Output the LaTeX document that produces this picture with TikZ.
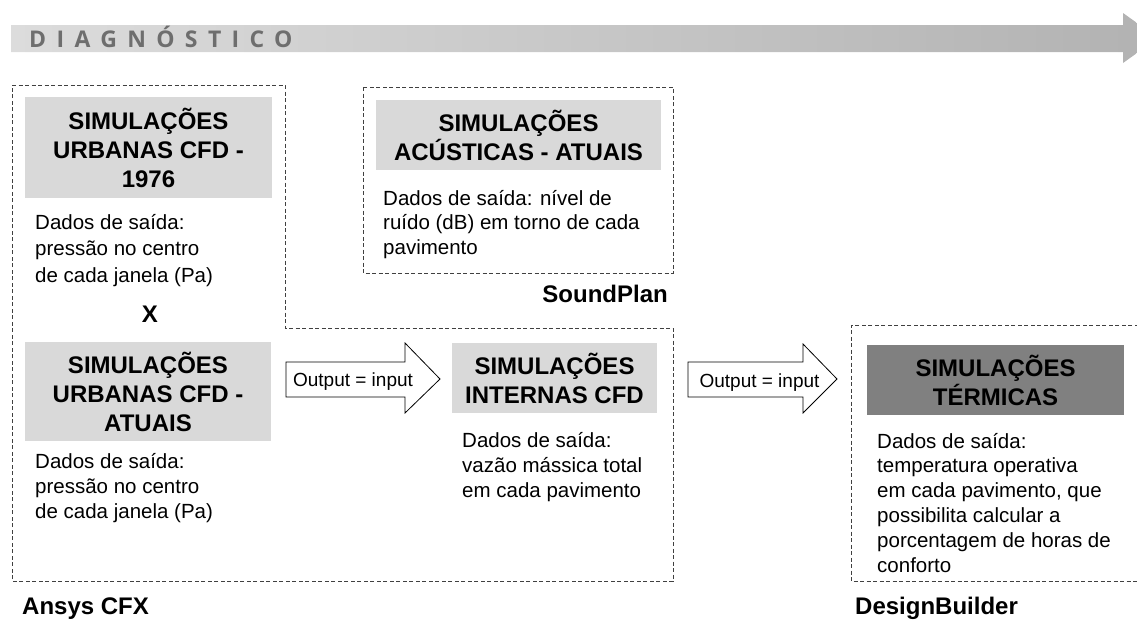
\documentclass[tikz,border=0pt]{standalone}
\usepackage{fontspec}
\setmainfont{Liberation Sans}
\newfontfamily\diagfont[LetterSpace=45]{Open Sans}
\definecolor{boxgray}{HTML}{D9D9D9}
\definecolor{boxdark}{HTML}{808080}
\definecolor{dashgray}{HTML}{404040}
\definecolor{diaggray}{HTML}{6E6E6E}
\definecolor{bandL}{HTML}{DCDCDC}
\definecolor{bandR}{HTML}{B2B2B2}
\begin{document}
\begin{tikzpicture}[x=1pt,y=-1pt,
  dashbox/.style={draw=dashgray, line width=0.8pt, dash pattern=on 4pt off 2.5pt},
  titlebox/.style={fill=boxgray, inner sep=0pt, align=center, font=\bfseries\fontsize{24}{29}\selectfont},
  bodytext/.style={anchor=base west, inner sep=0pt, font=\fontsize{20.5}{25}\selectfont},
  labeltext/.style={inner sep=0pt, font=\bfseries\fontsize{24}{28}\selectfont},
  blockarrow/.style={draw=black, line width=0.8pt, fill=white, line join=miter},
  arrowtext/.style={anchor=base, inner sep=0pt, font=\fontsize{19}{23}\selectfont}]
\useasboundingbox (0,0) rectangle (1137,619);
\clip (0,0) rectangle (1137,619);

% top banner arrow
\shade[left color=bandL, right color=bandR]
  (11,25) -- (1123,25) -- (1123,13) -- (1158,38) -- (1123,63) -- (1123,52) -- (11,52) -- cycle;
\node[anchor=base west, inner sep=0pt, text=diaggray,
      font=\diagfont\bfseries\fontsize{23}{27}\selectfont] (diag) at (29,47) {DIAGNÓSTICO};

% dashed group frames
\draw[dashbox] (12,85) -- (285,85) -- (285,328) -- (673,328) -- (673,581) -- (12,581) -- cycle;
\draw[dashbox] (363,87) rectangle (673,273);
\draw[dashbox] (1145,325) -- (851,325) -- (851,581) -- (1145,581);

% title boxes
\node[titlebox, minimum width=247pt, minimum height=101pt] (b1) at (148.5,147.5) {SIMULAÇÕES\\URBANAS CFD -\\1976};
\node[titlebox, minimum width=246pt, minimum height=99pt] (b2) at (148,391.5) {SIMULAÇÕES\\URBANAS CFD -\\ATUAIS};
\node[titlebox, minimum width=285pt, minimum height=70pt] (b3) at (518.5,135) {SIMULAÇÕES\\ACÚSTICAS - ATUAIS};
\node[titlebox, minimum width=205pt, minimum height=70pt] (b4) at (554.5,378) {SIMULAÇÕES\\INTERNAS CFD};
\node[titlebox, fill=boxdark, minimum width=257pt, minimum height=70pt] (b5) at (995.5,380) {SIMULAÇÕES\\TÉRMICAS};

% body texts
\foreach \t [count=\i from 0] in {Dados de saída:, pressão no centro, de cada janela (Pa)}
  \node[bodytext] (t1-\i) at (35,{229+26.5*\i}) {\t};
\foreach \t [count=\i from 0] in {Dados de saída:, pressão no centro, de cada janela (Pa)}
  \node[bodytext] (t2-\i) at (35,{468+25*\i}) {\t};
\foreach \t [count=\i from 0] in {Dados de saída: nível de, ruído (dB) em torno de cada, pavimento}
  \node[bodytext] (t3-\i) at (383,{205+24.5*\i}) {\t};
\foreach \t [count=\i from 0] in {Dados de saída:, vazão mássica total, em cada pavimento}
  \node[bodytext] (t4-\i) at (462,{447+25*\i}) {\t};
\foreach \t [count=\i from 0] in {Dados de saída:, temperatura operativa, {em cada pavimento, que}, possibilita calcular a, porcentagem de horas de, conforto}
  \node[bodytext] (t5-\i) at (877,{448+24.8*\i}) {\t};

% X between urban simulations
\node[labeltext, anchor=base] (x) at (150,322) {X};

% software labels
\node[labeltext, anchor=base east] (soundplan) at (668,302) {SoundPlan};
\node[labeltext, anchor=base west] (ansys) at (22,614) {Ansys CFX};
\node[labeltext, anchor=base west] (designbuilder) at (855,614) {DesignBuilder};

% block arrows
\draw[blockarrow] (286,362) -- (405,362) -- (405,343) -- (440,379) -- (405,413) -- (405,397) -- (286,397) -- cycle;
\node[arrowtext] (a1) at (353,386) {Output = input};
\draw[blockarrow] (688,362) -- (803,362) -- (803,344) -- (837,379) -- (803,413) -- (803,397) -- (688,397) -- cycle;
\node[arrowtext] (a2) at (759.5,387) {Output = input};
\end{tikzpicture}
\end{document}
